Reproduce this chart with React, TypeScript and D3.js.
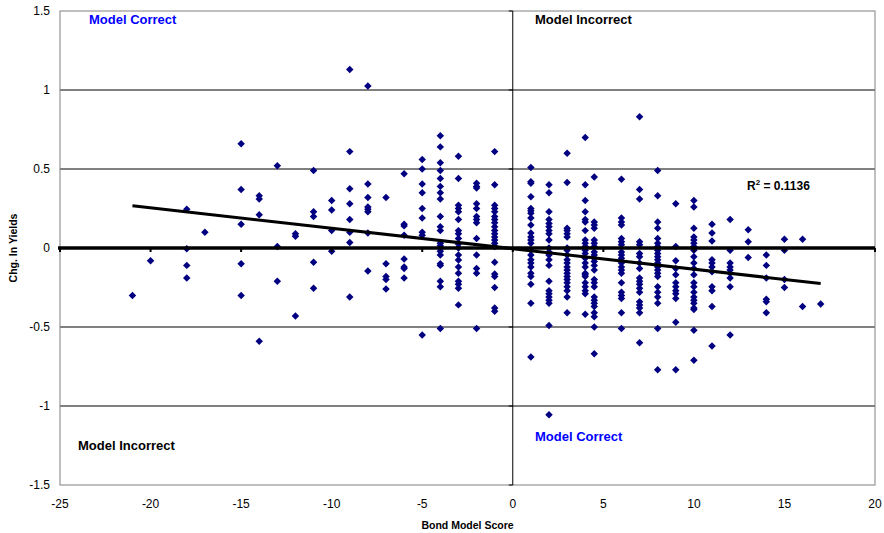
import React from 'react';
import * as d3 from 'd3';

// bond model score columns and the yield changes observed at each score
const scores = [-21, -20, -18, -17, -15, -14, -13, -12, -11, -10, -9, -8, -7, -6, -5, -4, -3, -2, -1,
  1, 2, 3, 4, 4.5, 6, 7, 8, 9, 10, 11, 12, 13, 14, 15, 16, 17];

const yieldChanges = [
  [-0.30],
  [-0.08],
  [0.245, -0.005, -0.11, -0.19],
  [0.10],
  [0.66, 0.37, 0.15, -0.10, -0.30],
  [0.33, 0.31, 0.21, -0.59],
  [0.52, 0.01, -0.21],
  [0.09, 0.075, -0.43],
  [0.49, 0.23, 0.20, -0.09, -0.255],
  [0.30, 0.24, 0.11, -0.02],
  [1.13, 0.61, 0.375, 0.28, 0.18, 0.10, 0.035, -0.31],
  [1.025, 0.405, 0.32, 0.26, 0.245, 0.23, 0.095, -0.145],
  [0.32, -0.10, -0.18, -0.20, -0.26],
  [0.47, 0.15, 0.14, 0.08, -0.07, -0.12, -0.13, -0.19],
  [0.56, 0.50, 0.405, 0.35, 0.25, 0.19, 0.10, 0.08, -0.55],
  [0.71, 0.64, 0.54, 0.49, 0.44, 0.39, 0.35, 0.31, 0.20, 0.135, 0.11, 0.03, 0.015, 0.0, -0.02, -0.044, -0.10, -0.11, -0.21, -0.245, -0.51],
  [0.58, 0.44, 0.27, 0.25, 0.23, 0.18, 0.11, 0.09, 0.06, 0.025, 0.0, -0.044, -0.076, -0.12, -0.16, -0.21, -0.23, -0.255, -0.36],
  [0.41, 0.39, 0.38, 0.28, 0.25, 0.20, 0.18, 0.16, 0.06, -0.044, -0.13, -0.16, -0.51],
  [0.61, 0.40, 0.27, 0.25, 0.23, 0.20, 0.18, 0.16, 0.135, 0.11, 0.09, 0.07, 0.05, 0.03, 0.01, -0.09, -0.165, -0.18, -0.25, -0.38, -0.40],
  [0.51, 0.42, 0.41, 0.325, 0.25, 0.235, 0.22, 0.19, 0.145, 0.095, 0.07, 0.05, 0.03, -0.015, -0.045, -0.075, -0.095, -0.12, -0.16, -0.18, -0.23, -0.35, -0.69],
  [0.40, 0.35, 0.23, 0.18, 0.155, 0.135, 0.11, 0.09, 0.05, 0.0, -0.025, -0.045, -0.075, -0.11, -0.21, -0.27, -0.29, -0.31, -0.33, -0.35, -0.49, -1.055],
  [0.60, 0.415, 0.125, 0.11, 0.09, 0.07, 0.0, -0.015, -0.045, -0.075, -0.095, -0.12, -0.14, -0.16, -0.18, -0.20, -0.22, -0.245, -0.27, -0.31, -0.41],
  [0.70, 0.40, 0.30, 0.23, 0.18, 0.165, 0.11, 0.05, 0.03, 0.01, -0.015, -0.035, -0.065, -0.095, -0.12, -0.16, -0.17, -0.18, -0.22, -0.245, -0.27, -0.29, -0.42],
  [0.45, 0.165, 0.145, 0.125, 0.05, 0.03, 0.01, -0.025, -0.045, -0.065, -0.085, -0.11, -0.14, -0.20, -0.22, -0.245, -0.31, -0.33, -0.35, -0.37, -0.41, -0.435, -0.50, -0.67],
  [0.435, 0.19, 0.165, 0.145, 0.06, 0.04, 0.02, -0.025, -0.045, -0.065, -0.095, -0.12, -0.14, -0.16, -0.22, -0.28, -0.30, -0.32, -0.41, -0.51],
  [0.83, 0.37, 0.31, 0.04, 0.02, -0.035, -0.055, -0.095, -0.13, -0.19, -0.21, -0.23, -0.255, -0.28, -0.34, -0.36, -0.38, -0.41, -0.60],
  [0.49, 0.33, 0.165, 0.125, 0.06, 0.03, 0.01, -0.015, -0.035, -0.055, -0.075, -0.095, -0.12, -0.14, -0.16, -0.18, -0.245, -0.28, -0.31, -0.35, -0.51, -0.77],
  [0.28, 0.01, -0.08, -0.13, -0.17, -0.22, -0.245, -0.27, -0.29, -0.32, -0.47, -0.77],
  [0.30, 0.26, 0.125, 0.07, 0.05, 0.03, 0.01, -0.015, -0.055, -0.095, -0.13, -0.17, -0.22, -0.245, -0.28, -0.31, -0.33, -0.35, -0.38, -0.39, -0.52, -0.71],
  [0.15, 0.095, 0.045, -0.075, -0.095, -0.12, -0.15, -0.245, -0.27, -0.37, -0.62],
  [0.18, -0.015, -0.095, -0.12, -0.14, -0.16, -0.19, -0.245, -0.55],
  [0.115, 0.04, -0.06],
  [-0.045, -0.11, -0.19, -0.325, -0.34, -0.41],
  [0.055, -0.015, -0.20, -0.25],
  [0.055, -0.37],
  [-0.355],
];

const xTicks = [-25, -20, -15, -10, -5, 0, 5, 10, 15, 20];
const yTicks = [-1.5, -1, -0.5, 0, 0.5, 1, 1.5];
const gridLines = [-1, -0.5, 0.5, 1];

// linear trend
const trendSlope = -0.01297;
const trendIntercept = -0.0044;
const trendSpan = [-21, 17];
const rSquared = '0.1136';

const W = 884;
const H = 533;
const left = 60, right = 875, top = 11, bottom = 485;
const font = '"Liberation Sans", Arial, sans-serif';

export default function App() {
  const x = d3.scaleLinear().domain([-25, 20]).range([left, right]);
  const y = d3.scaleLinear().domain([-1.5, 1.5]).range([bottom, top]);

  const points = scores.flatMap((s, i) => yieldChanges[i].map(v => [s, v]));
  const diamond = d3.symbol(d3.symbolSquare, 28)() as string;

  const trend = d3.line<number>()
    .x(d => x(d))
    .y(d => y(trendIntercept + trendSlope * d));

  return (
    <div style={{ position: 'absolute', left: 0, top: 0 }}>
      <svg width={W} height={H} style={{ display: 'block', fontFamily: font }}>
        <rect x={0} y={0} width={W} height={H} fill="#fff" />

        {gridLines.map(g => (
          <line key={g} x1={left} x2={right} y1={y(g)} y2={y(g)} stroke="#000" strokeWidth={1} />
        ))}
        <rect x={left} y={top} width={right - left} height={bottom - top} fill="none" stroke="#808080" strokeWidth={1} />

        {/* vertical axis through zero */}
        <line x1={x(0)} x2={x(0)} y1={top} y2={bottom} stroke="#000" strokeWidth={1} />
        {yTicks.map(t => (
          <line key={t} x1={x(0) - 4} x2={x(0)} y1={y(t)} y2={y(t)} stroke="#000" strokeWidth={1} />
        ))}

        {points.map(([s, v], i) => (
          <path key={i} d={diamond} transform={`translate(${x(s)},${y(v)}) rotate(45)`} fill="#000080" />
        ))}

        {/* horizontal axis through zero */}
        <line x1={left - 2} x2={right} y1={y(0)} y2={y(0)} stroke="#000" strokeWidth={3.5} />
        {xTicks.map(t => (
          <line key={t} x1={x(t)} x2={x(t)} y1={y(0)} y2={y(0) + 4} stroke="#000" strokeWidth={2} />
        ))}

        <path d={trend(trendSpan) as string} fill="none" stroke="#000" strokeWidth={3} />

        {yTicks.map(t => (
          <text key={t} x={left - 10} y={y(t)} dy="0.35em" textAnchor="end" fontSize={12} fill="#000">
            {t}
          </text>
        ))}
        {xTicks.map(t => (
          <text key={t} x={x(t)} y={508} textAnchor="middle" fontSize={12} fill="#000">
            {t}
          </text>
        ))}

        <text x={(left + right) / 2} y={529} textAnchor="middle" fontSize={10.5} fontWeight="bold">
          Bond Model Score
        </text>
        <text transform={`translate(17,${(top + bottom) / 2}) rotate(-90)`} textAnchor="middle" fontSize={10.5} fontWeight="bold">
          Chg. In Yields
        </text>

        <text x={89} y={24} fontSize={13} fontWeight="bold" fill="#0000ff">Model Correct</text>
        <text x={535} y={24} fontSize={13} fontWeight="bold" fill="#000">Model Incorrect</text>
        <text x={78} y={450} fontSize={13} fontWeight="bold" fill="#000">Model Incorrect</text>
        <text x={535} y={441} fontSize={13} fontWeight="bold" fill="#0000ff">Model Correct</text>

        <text x={747} y={190} fontSize={12} fontWeight="bold" fill="#000">
          R<tspan fontSize={8} dy={-5}>2</tspan><tspan dy={5}> = {rSquared}</tspan>
        </text>
      </svg>
    </div>
  );
}
